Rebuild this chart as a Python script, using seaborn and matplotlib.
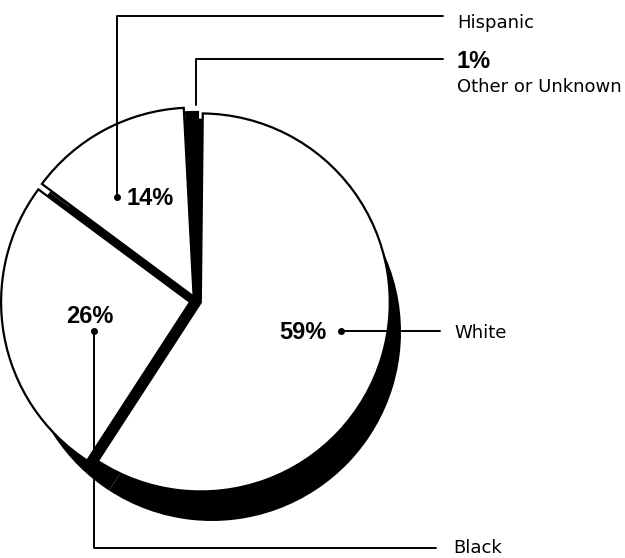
import matplotlib
matplotlib.use("Agg")
import matplotlib.pyplot as plt
import seaborn as sns

# slice data, in drawing order (clockwise from the top)
categories = ["Other or Unknown", "White", "Black", "Hispanic"]
shares = [1, 59, 26, 14]
pct_labels = ["1%", "59%", "26%", "14%"]
fills = ["black", "white", "white", "white"]

sns.set_theme(style="white")
plt.rcParams["font.family"] = ["DejaVu Sans"]

W, H = 625, 558
fig = plt.figure(figsize=(W / 100, H / 100), dpi=100)
ax = fig.add_axes([0, 0, 1, 1])


def iy(y):
    # picture rows run downwards, axes run upwards
    return H - y


cx, cy, r = 196, iy(301), 189
start = 93.0
explode = [0.0, 5.0, 6.0, 5.0]   # in pixels (pie uses data units)

# drop shadow, pushed right and down
ax.pie(shares, radius=r, center=(cx + 16, cy - 31), startangle=start,
       counterclock=False, colors=["black"] * 4, frame=True,
       wedgeprops=dict(linewidth=0))
# dark core that shows through the gaps between slices
ax.pie(shares, radius=r * 0.965, center=(cx, cy), startangle=start,
       counterclock=False, colors=["black"] * 4, frame=True,
       wedgeprops=dict(linewidth=0))
# the slices themselves
ax.pie(shares, radius=r, center=(cx, cy), startangle=start,
       counterclock=False, colors=fills, explode=explode, frame=True,
       wedgeprops=dict(edgecolor="black", linewidth=1.6))

ax.set_xlim(0, W)
ax.set_ylim(0, H)
ax.set_aspect("equal")
ax.axis("off")

lw = 1.4
big = dict(fontsize=17, fontweight="bold", color="black",
           family=["Liberation Sans", "DejaVu Sans"])
small = dict(fontsize=13, color="black")

# Hispanic
ax.plot([117, 117, 443], [iy(197), iy(16), iy(16)], color="black", lw=lw)
ax.plot(117, iy(197), "o", color="black", ms=4)
ax.text(126, iy(205), pct_labels[3], va="baseline", ha="left", **big)
ax.text(457, iy(28), categories[3], va="baseline", ha="left", **small)

# Other or Unknown
ax.plot([196, 196, 443], [iy(105), iy(59), iy(59)], color="black", lw=lw)
ax.text(457, iy(68), pct_labels[0], va="baseline", ha="left", **big)
ax.text(457, iy(92), categories[0], va="baseline", ha="left", **small)

# White
ax.plot([341, 440], [iy(331), iy(331)], color="black", lw=lw)
ax.plot(341, iy(331), "o", color="black", ms=4)
ax.text(279, iy(339), pct_labels[1], va="baseline", ha="left", **big)
ax.text(454, iy(338), categories[1], va="baseline", ha="left", **small)

# Black
ax.plot([94, 94, 436], [iy(331), iy(548), iy(548)], color="black", lw=lw)
ax.plot(94, iy(331), "o", color="black", ms=4)
ax.text(66, iy(323), pct_labels[2], va="baseline", ha="left", **big)
ax.text(453, iy(553), categories[2], va="baseline", ha="left", **small)

fig.savefig("out.png", dpi=100, facecolor="white")
